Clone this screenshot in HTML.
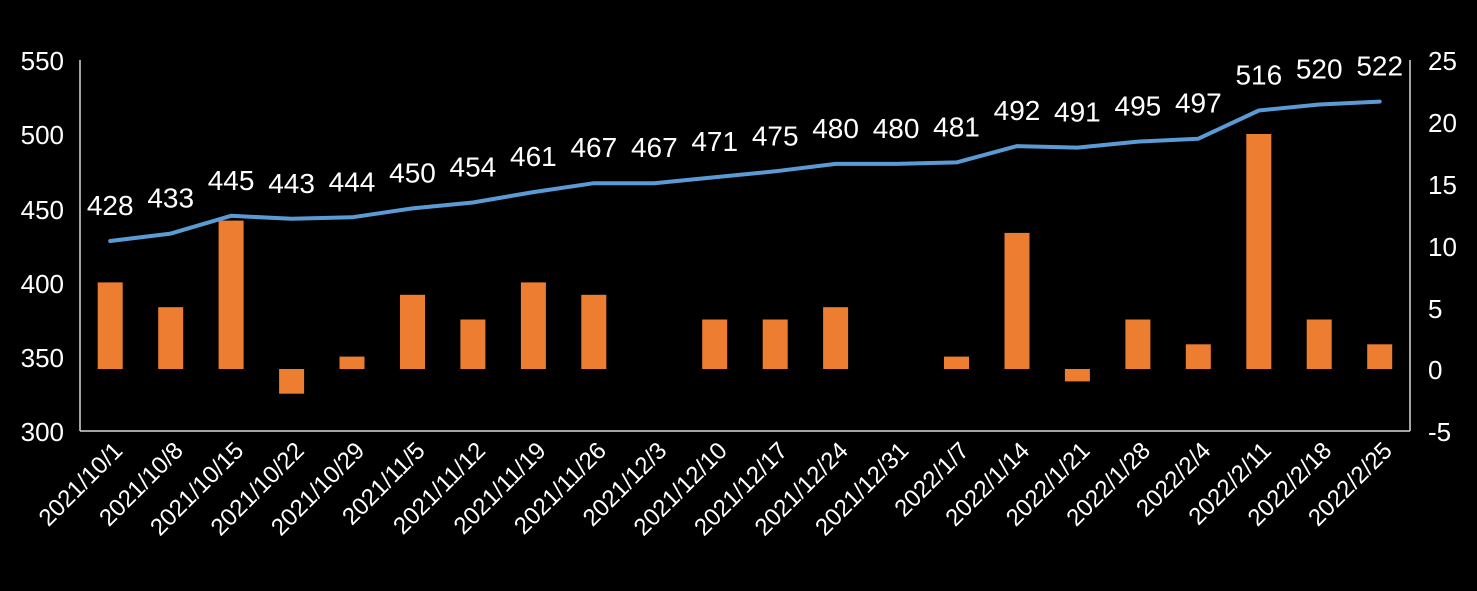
<!DOCTYPE html>
<html><head><meta charset="utf-8"><style>
html,body{margin:0;padding:0;background:#000;}
svg{display:block;}
text{font-family:"Liberation Sans",sans-serif;fill:#fff;}
</style></head><body>
<svg width="1477" height="591" viewBox="0 0 1477 591" xmlns="http://www.w3.org/2000/svg">
<rect width="1477" height="591" fill="#000"/>
<g stroke="#d9d9d9" stroke-width="1.5" fill="none">
<line x1="80" y1="60" x2="80" y2="431"/>
<line x1="1410" y1="60" x2="1410" y2="431"/>
<line x1="80" y1="431" x2="1410" y2="431"/>
</g>
<g font-size="26" text-anchor="end">
<text x="64" y="70">550</text>
<text x="64" y="144">500</text>
<text x="64" y="219">450</text>
<text x="64" y="293">400</text>
<text x="64" y="367">350</text>
<text x="64" y="441">300</text>
</g>
<g font-size="26" text-anchor="start">
<text x="1428" y="70">25</text>
<text x="1428" y="132">20</text>
<text x="1428" y="194">15</text>
<text x="1428" y="256">10</text>
<text x="1428" y="318">5</text>
<text x="1428" y="379">0</text>
<text x="1428" y="441">-5</text>
</g>
<g fill="#ed7d31">
<rect x="97.7" y="282.4" width="25" height="86.6"/>
<rect x="158.2" y="307.2" width="25" height="61.8"/>
<rect x="218.6" y="220.6" width="25" height="148.4"/>
<rect x="279.1" y="369" width="25" height="24.7"/>
<rect x="339.5" y="356.6" width="25" height="12.4"/>
<rect x="400" y="294.8" width="25" height="74.2"/>
<rect x="460.4" y="319.5" width="25" height="49.5"/>
<rect x="520.9" y="282.4" width="25" height="86.6"/>
<rect x="581.3" y="294.8" width="25" height="74.2"/>
<rect x="702.2" y="319.5" width="25" height="49.5"/>
<rect x="762.7" y="319.5" width="25" height="49.5"/>
<rect x="823.1" y="307.2" width="25" height="61.8"/>
<rect x="944" y="356.6" width="25" height="12.4"/>
<rect x="1004.5" y="232.9" width="25" height="136.1"/>
<rect x="1064.9" y="369" width="25" height="12.4"/>
<rect x="1125.4" y="319.5" width="25" height="49.5"/>
<rect x="1185.8" y="344.3" width="25" height="24.7"/>
<rect x="1246.3" y="134" width="25" height="235"/>
<rect x="1306.7" y="319.5" width="25" height="49.5"/>
<rect x="1367.2" y="344.3" width="25" height="24.7"/>
</g>
<polyline fill="none" stroke="#5b9bd5" stroke-width="4" stroke-linejoin="round" stroke-linecap="round" points="110.2,241 170.7,233.6 231.1,215.8 291.6,218.8 352,217.3 412.5,208.4 472.9,202.5 533.4,192.1 593.8,183.2 654.3,183.2 714.7,177.2 775.2,171.3 835.6,163.9 896.1,163.9 956.5,162.4 1017,146.1 1077.4,147.6 1137.9,141.6 1198.3,138.7 1258.8,110.5 1319.2,104.5 1379.7,101.6"/>
<g font-size="28" text-anchor="middle">
<text x="110.2" y="215">428</text>
<text x="170.7" y="207.6">433</text>
<text x="231.1" y="189.8">445</text>
<text x="291.6" y="192.8">443</text>
<text x="352" y="191.3">444</text>
<text x="412.5" y="182.4">450</text>
<text x="472.9" y="176.5">454</text>
<text x="533.4" y="166.1">461</text>
<text x="593.8" y="157.2">467</text>
<text x="654.3" y="157.2">467</text>
<text x="714.7" y="151.2">471</text>
<text x="775.2" y="145.3">475</text>
<text x="835.6" y="137.9">480</text>
<text x="896.1" y="137.9">480</text>
<text x="956.5" y="136.4">481</text>
<text x="1017" y="120.1">492</text>
<text x="1077.4" y="121.6">491</text>
<text x="1137.9" y="115.6">495</text>
<text x="1198.3" y="112.7">497</text>
<text x="1258.8" y="84.5">516</text>
<text x="1319.2" y="78.5">520</text>
<text x="1379.7" y="75.6">522</text>
</g>
<g font-size="24" text-anchor="end">
<text transform="translate(124,452) rotate(-45)">2021/10/1</text>
<text transform="translate(184.5,452) rotate(-45)">2021/10/8</text>
<text transform="translate(244.9,452) rotate(-45)">2021/10/15</text>
<text transform="translate(305.4,452) rotate(-45)">2021/10/22</text>
<text transform="translate(365.8,452) rotate(-45)">2021/10/29</text>
<text transform="translate(426.3,452) rotate(-45)">2021/11/5</text>
<text transform="translate(486.7,452) rotate(-45)">2021/11/12</text>
<text transform="translate(547.2,452) rotate(-45)">2021/11/19</text>
<text transform="translate(607.6,452) rotate(-45)">2021/11/26</text>
<text transform="translate(668.1,452) rotate(-45)">2021/12/3</text>
<text transform="translate(728.5,452) rotate(-45)">2021/12/10</text>
<text transform="translate(789,452) rotate(-45)">2021/12/17</text>
<text transform="translate(849.4,452) rotate(-45)">2021/12/24</text>
<text transform="translate(909.9,452) rotate(-45)">2021/12/31</text>
<text transform="translate(970.3,452) rotate(-45)">2022/1/7</text>
<text transform="translate(1030.8,452) rotate(-45)">2022/1/14</text>
<text transform="translate(1091.2,452) rotate(-45)">2022/1/21</text>
<text transform="translate(1151.7,452) rotate(-45)">2022/1/28</text>
<text transform="translate(1212.1,452) rotate(-45)">2022/2/4</text>
<text transform="translate(1272.6,452) rotate(-45)">2022/2/11</text>
<text transform="translate(1333,452) rotate(-45)">2022/2/18</text>
<text transform="translate(1393.5,452) rotate(-45)">2022/2/25</text>
</g>
</svg>
</body></html>
